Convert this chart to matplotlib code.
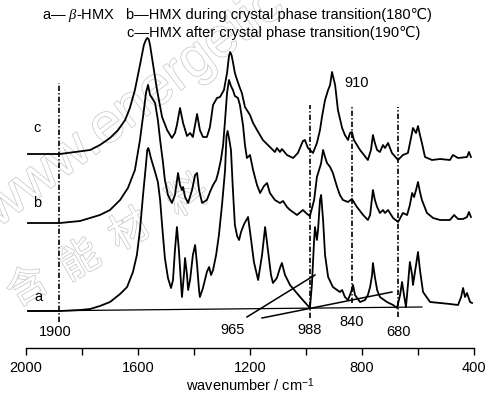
import matplotlib
matplotlib.use("Agg")
import matplotlib.pyplot as plt
from matplotlib import font_manager, patheffects

# ---------------- data ----------------
# curve a : beta-HMX
a_wn = [1993, 1879, 1807, 1771, 1736, 1700, 1664, 1639, 1618, 1604, 1593, 1582, 1571, 1567, 1563, 1559,
        1554, 1539, 1529, 1521, 1514, 1504, 1493, 1482, 1475, 1468, 1461, 1454, 1446, 1443,
        1436, 1432, 1425, 1421, 1414, 1404, 1396, 1389, 1382, 1379, 1368, 1354, 1346, 1339,
        1332, 1321, 1311, 1300, 1289, 1284, 1280, 1275, 1268, 1261, 1254, 1246, 1239, 1232, 1221,
        1207, 1196, 1186, 1171, 1157, 1146, 1136, 1125, 1118, 1104, 1093, 1086, 1075, 1057,
        1021, 986, 979, 971, 968, 961, 957, 950, 946, 939, 932, 921, 904, 879, 871, 861, 850,
        839, 832, 825, 807, 789, 779, 771, 764, 761, 754, 746, 736, 711, 689, 675, 664, 657,
        650, 643, 636, 629, 621, 618, 607, 600, 593, 582, 557, 521, 486, 457, 446, 439, 432,
        425, 414, 407]
a_int = [87, 87, 88, 89, 92, 96, 104, 111, 126, 143, 168, 203, 235, 248, 250, 246,
         240, 226, 216, 198, 173, 140, 120, 110, 118, 148, 171, 148, 113, 101,
         123, 140, 123, 108, 118, 143, 153, 133, 108, 101, 110, 126, 131, 123,
         128, 143, 163, 193, 228, 262, 267, 260, 248, 208, 173, 162, 158, 166, 174,
         181, 158, 136, 118, 143, 171, 148, 123, 115, 120, 130, 135, 123, 113,
         101, 90, 113, 158, 171, 158, 168, 198, 203, 178, 143, 121, 111, 106, 108, 101, 98,
         106, 113, 103, 96, 98, 103, 111, 123, 135, 121, 108, 101, 96, 93, 90, 103, 116,
         103, 91, 113, 136, 123, 113, 133, 146, 128, 106, 96, 95, 94, 93, 101, 110, 101,
         105, 96, 95]

# curve b : during crystal phase transition (180 C)
b_wn = [1993, 1879, 1807, 1736, 1700, 1664, 1636, 1611, 1593, 1579, 1571, 1564, 1557, 1550,
        1539, 1529, 1521, 1511, 1504, 1493, 1479, 1468, 1457, 1450, 1443, 1439, 1432, 1421,
        1407, 1396, 1389, 1382, 1371, 1354, 1343, 1332, 1321, 1314, 1304, 1296, 1289, 1282,
        1275, 1268, 1261, 1254, 1243, 1236, 1225, 1218, 1211, 1200, 1189, 1175, 1164, 1150,
        1139, 1129, 1111, 1093, 1082, 1068, 1057, 1032, 1011, 996, 986, 971, 961, 950, 946,
        939, 932, 925, 914, 904, 889, 879, 868, 850, 836, 818, 796, 779, 771, 761, 754, 746,
        736, 725, 718, 707, 689, 671, 654, 639, 629, 621, 614, 607, 600, 593, 586, 568, 546,
        521, 486, 471, 457, 439, 425, 418, 411]
b_int = [175, 175, 177, 183, 188, 198, 210, 228, 258, 288, 306, 313, 303, 300,
         295, 278, 258, 236, 218, 203, 195, 203, 225, 213, 208, 211, 201, 195,
         208, 223, 225, 208, 195, 198, 206, 213, 218, 225, 238, 253, 278, 305,
         318, 312, 308, 302, 300, 293, 273, 253, 240, 243, 228, 213, 205, 212,
         215, 205, 198, 195, 197, 191, 188, 183, 188, 184, 182, 198, 221, 231, 235,
         248, 241, 235, 231, 225, 211, 203, 198, 196, 199, 191, 183, 178, 183, 208, 198, 191,
         185, 188, 185, 188, 180, 176, 185, 183, 193, 205, 201, 208, 216, 206, 198, 185, 180,
         178, 178, 183, 179, 179, 181, 186, 181]

# curve c : after crystal phase transition (190 C)
c_wn = [1993, 1879, 1825, 1771, 1736, 1700, 1671, 1646, 1629, 1611, 1593, 1579, 1572, 1567, 1562, 1557,
        1546, 1532, 1514, 1496, 1479, 1468, 1461, 1450, 1439, 1425, 1414, 1404, 1389, 1379,
        1368, 1354, 1343, 1332, 1318, 1307, 1293, 1282, 1275, 1271, 1266, 1261, 1254, 1246, 1236, 1229,
        1218, 1200, 1189, 1175, 1154, 1129, 1111, 1104, 1093, 1086, 1068, 1046, 1029, 1011,
        1004, 993, 975, 961, 950, 943, 932, 921, 914, 907, 896, 886, 871, 861, 850, 843, 836,
        829, 807, 779, 768, 761, 754, 746, 736, 725, 718, 707, 693, 671, 654, 636, 625, 618,
        607, 600, 593, 586, 575, 550, 521, 486, 475, 457, 425, 418, 411]
c_int = [244, 244, 246, 248, 253, 260, 268, 278, 290, 308, 333, 353, 358, 360, 359, 353,
         333, 308, 281, 268, 260, 265, 273, 290, 275, 262, 265, 261, 284, 268,
         261, 261, 271, 293, 300, 301, 308, 325, 342, 346, 343, 336, 325, 318, 310, 305,
         291, 283, 275, 268, 258, 251, 246, 250, 246, 249, 243, 240, 245, 257,
         258, 250, 245, 255, 268, 281, 298, 308, 313, 326, 313, 288, 270, 263, 258, 265, 266,
         258, 248, 238, 248, 263, 255, 248, 246, 253, 250, 255, 245, 238, 243, 245, 260, 270,
         265, 272, 263, 255, 241, 238, 239, 238, 243, 240, 241, 246, 241]

# straight reference lines drawn on curve a
base_wn = [1993, 586]
base_int = [87, 91]
tan1_wn = [1211, 968]
tan1_int = [81, 123]
tan2_wn = [1157, 693]
tan2_int = [80, 106]

# dash-dot marker lines: position, bottom, top
mark_wn = [1882, 986, 836, 671]
mark_lo = [76, 80, 95, 81]
mark_hi = [315, 293, 291, 291]

# peak labels
peak_text = ["1900", "965", "988", "840", "680", "910"]
peak_wn = [1896, 1264, 986, 836, 671, 818]
peak_y = [66, 68, 68, 76, 66, 315]

curve_names = ["c", "b", "a"]
curve_name_wn = [1961, 1961, 1957]
curve_name_y = [270, 195, 101]

legend_lines = [r"a— $\beta$-HMX",
                "b—HMX during crystal phase transition(180℃)",
                "c—HMX after crystal phase transition(190℃)"]

xticks_major = [2000, 1600, 1200, 800, 400]
xticks_minor = [1800, 1400, 1000, 600]

# ---------------- fonts ----------------
names = {f.name for f in font_manager.fontManager.ttflist}
if "Liberation Sans Narrow" in names:
    main_font = "Liberation Sans Narrow"
    fs = 12.5
else:
    main_font = "Liberation Sans"
    fs = 10.5
fam = [main_font, "Liberation Sans", "DejaVu Sans", "Noto Sans CJK SC"]
plt.rcParams["font.family"] = fam
plt.rcParams["mathtext.fontset"] = "custom"
plt.rcParams["mathtext.rm"] = main_font
plt.rcParams["mathtext.it"] = "Liberation Serif:italic"

# ---------------- figure ----------------
W, H = 488, 398
fig = plt.figure(figsize=(W / 100, H / 100), dpi=100)
ax = fig.add_axes([26 / W, 50 / H, 448 / W, 348 / H])
ax.set_xlim(2000, 400)
ax.set_ylim(50, 398)
for s in ["left", "right", "top"]:
    ax.spines[s].set_visible(False)
ax.spines["bottom"].set_linewidth(1.0)
ax.set_yticks([])
ax.set_xticks(xticks_major)
ax.set_xticks(xticks_minor, minor=True)
ax.tick_params(axis="x", which="both", direction="out", length=5, width=1.0,
               labelsize=fs, pad=4)
ax.set_xlabel("wavenumber / cm$^{\\mathregular{-1}}$", fontsize=fs, labelpad=1)

# watermark (light outlined text, as in the reference)
pe = [patheffects.withStroke(linewidth=1.0, foreground="#c4c4c4")]
fig.text(-2 / W, 1 - 228 / H, "www.energetic-materials", fontsize=40,
         rotation=37, rotation_mode="anchor", ha="left", va="baseline",
         color="white", path_effects=pe, family="Liberation Sans", zorder=0,
         clip_on=True)
cj = ["含", "能", "材", "料"]
cj_x = [28, 80, 130, 188]
cj_y = [287, 261, 231, 197]
for ch, cx, cy in zip(cj, cj_x, cj_y):
    fig.text(cx / W, 1 - cy / H, ch, fontsize=29, rotation=30, rotation_mode="anchor",
             ha="center", va="center", color="white", path_effects=pe,
             family="Noto Sans CJK SC", zorder=0)
ax.set_facecolor("none")
ax.set_zorder(2)

lw = 1.3
for xs, ys in [(a_wn, a_int), (b_wn, b_int), (c_wn, c_int)]:
    ax.plot(xs, ys, color="black", lw=lw, solid_joinstyle="round")
ax.plot(base_wn, base_int, color="black", lw=0.9)
ax.plot(tan1_wn, tan1_int, color="black", lw=1.1)
ax.plot(tan2_wn, tan2_int, color="black", lw=1.1)

for x, lo, hi in zip(mark_wn, mark_lo, mark_hi):
    ax.plot([x, x], [lo, hi], color="black", lw=1.2, linestyle=(0, (3.2, 1.3, 0.8, 1.3)))

for t, x, y in zip(peak_text, peak_wn, peak_y):
    ax.text(x, y, t, fontsize=fs, ha="center", va="center")
for t, x, y in zip(curve_names, curve_name_wn, curve_name_y):
    ax.text(x, y, t, fontsize=fs, ha="center", va="center")

ax.text(1943, 383, legend_lines[0], fontsize=fs, ha="left", va="center")
ax.text(1643, 383, legend_lines[1], fontsize=fs, ha="left", va="center")
ax.text(1639, 365, legend_lines[2], fontsize=fs, ha="left", va="center")

fig.savefig("out.png", dpi=100)
